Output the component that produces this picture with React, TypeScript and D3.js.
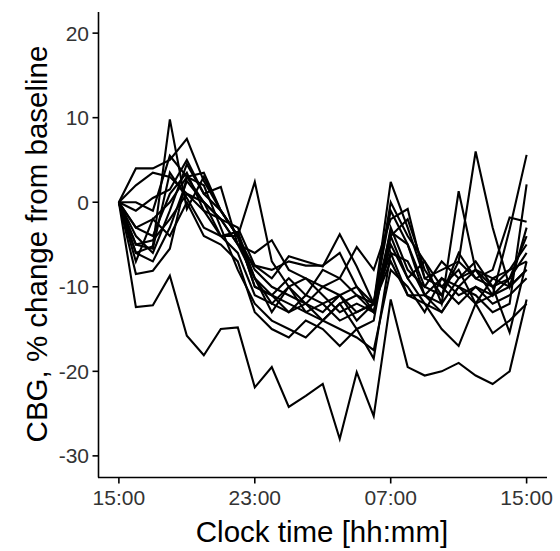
import React from 'react';
import * as d3 from 'd3';

// hours since 15:00
const hours = d3.range(0, 25);
const xTicks = [0, 8, 16, 24];
const xTickLabels = ['15:00', '23:00', '07:00', '15:00'];
const yTicks = [-30, -20, -10, 0, 10, 20];

// % change from baseline, one array per subject
const s1 = [0, -12.4, -12.2, -8.7, -15.8, -18.1, -15, -14.8, -21.9, -19.5, -24.2, -22.9, -21.5, -28, -20.1, -25.3, -11.5, -19.5, -20.5, -20, -19, -20.5, -21.5, -20, -11.5];
const s2 = [0, -6, -5.2, 9.8, -0.8, 3, -1, -4, -9, -12, -10, -13, -14, -12, -15, -14, -3, -8, -10, -7, -9, -8, -10, -9, -6];
const s3 = [0, 0, -1, 5.5, 3, 3.5, -1, -4, -8, -10, -11, -12, -10, -11, -13, -12, -6, -7, -11, -9, -10, -8, -9, -10, -8];
const s4 = [0, 4, 4, 5, 7.5, 2.5, -1, -4, -10, -11, -13, -12, -14, -12, -11, -12, 2.4, -3, -9, -10, -8, -12, -9, -8, -5];
const s5 = [0, 2, 3.5, 3, 1, 0, -2, -3, -7.5, -8, -7, -7.5, -7.5, -6, -10, -12, -3.5, -5, -10, -11, -7, 6, -3, -10, -3];
const s6 = [0, -1, 0.5, 1.5, 5, 1, 1.8, -5, -7.5, -9, -6.4, -7, -7.6, -3.8, -7.6, -12, 0, -4, -7, -12, 1.3, -8, -11, -3.2, 5.6];
const s7 = [0, -3, -4, 1, 3.5, -1, -2, -5, -6, -4.5, -8, -9, -10, -9, -5.3, -8, -2, -0.8, -9, -8, -7, -9, -8, -1.8, -2.3];
const s8 = [0, -5, -4.5, -2, 1, -1, -4, -6, -11, -12, -13, -11, -8, -9, -11, -13, -4, -2, -8, -11, -6, -9, -10, -8, -7];
const s9 = [0, -8.5, -8.1, -5.5, 3, 2, -3, -8, -12, -14, -15, -16, -14, -15, -16, -17.5, -8, -10, -13, -9, -11, -10, -12, -11, -9];
const s10 = [0, -7, -2, -4, 0, -4, -5, -7, -13, -15, -16, -14, -15, -17, -15, -18.5, -6, -11, -12, -15, -17, -12, -11, -9, -4];
const s11 = [0, -6, -7, -3, 2.5, 0, -4, -4, 2.4, -7, -10, -9, -11, -13, -12, -13, -5, -9, -7, -10, -12, -10, -11, -10, -8];
const s12 = [0, -5, -5.5, 3.5, 0.5, -3, -4, -3.5, -9, -11, -12, -13, -12, -14, -13, -12, -1, -5, -11, -12, -9, -7, -10, -15.4, -7];
const s13 = [0, -4, -6, -1, 4.5, 1, -1, -4, -10, -11, -9, -11, -12, -11, -10, -13, -4, -9, -12, -13, -10, -11, -13, -12, 2.1];
const s14 = [0, -3, -2, 0, 3, 0, -2, -5, -9, -13, -10, -12, -13, -11, -14, -12, -7, -11, -11, -13, -10, -12, -15.5, -14, -12];

const subjects = [s1, s2, s3, s4, s5, s6, s7, s8, s9, s10, s11, s12, s13, s14];

const W = 560;
const H = 551;

export default function App() {
  const x = d3.scaleLinear().domain([-1.2, 25.2]).range([98.5, 547]);
  const y = d3.scaleLinear().domain([-32.5, 22.5]).range([477, 12]);

  const line = d3.line<number>()
    .x((d, i) => x(hours[i]))
    .y(d => y(d));

  const font = '"Liberation Sans", Arial, sans-serif';

  return (
    <svg width={W} height={H} style={{ position: 'absolute', left: 0, top: 0, background: '#fff' }}>
      <g fill="none" stroke="#000" strokeWidth={2.1} strokeLinejoin="miter">
        {subjects.map((s, i) => <path key={i} d={line(s) || ''} />)}
      </g>

      {/* axes */}
      <line x1={98.5} x2={98.5} y1={12} y2={477.5} stroke="#000" strokeWidth={1.6} />
      <line x1={98} x2={547} y1={477.5} y2={477.5} stroke="#000" strokeWidth={1.6} />

      {yTicks.map(t => (
        <g key={t}>
          <line x1={92.5} x2={98.5} y1={y(t)} y2={y(t)} stroke="#000" strokeWidth={1.6} />
          <text x={89} y={y(t)} dy="0.36em" textAnchor="end" fontFamily={font} fontSize={21} fill="#333">{t}</text>
        </g>
      ))}
      {xTicks.map((t, i) => (
        <g key={i}>
          <line x1={x(t)} x2={x(t)} y1={477.5} y2={483.5} stroke="#000" strokeWidth={1.6} />
          <text x={x(t)} y={505} textAnchor="middle" fontFamily={font} fontSize={21} fill="#333">{xTickLabels[i]}</text>
        </g>
      ))}

      <text x={322} y={542} textAnchor="middle" fontFamily={font} fontSize={29.5} fill="#000">Clock time [hh:mm]</text>
      <text transform={`translate(47,244) rotate(-90)`} textAnchor="middle" fontFamily={font} fontSize={29.5} fill="#000">CBG, % change from baseline</text>
    </svg>
  );
}
